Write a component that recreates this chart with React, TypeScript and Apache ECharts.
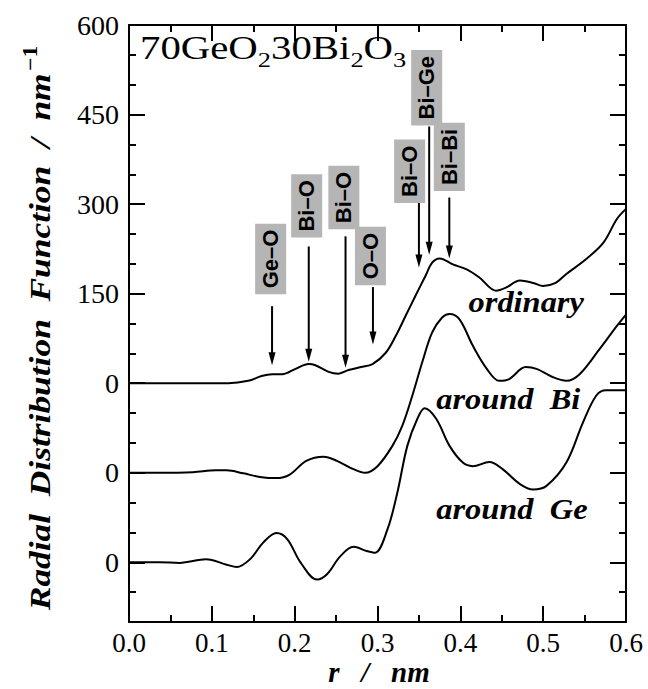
import React, { useEffect, useRef } from 'react';
import * as echarts from 'echarts';

// r / nm  vs  RDF value (nm^-1), raw values before vertical offset
const ordinary: number[][] = [
  [0, 0], [0.06, 0], [0.12, 0], [0.144, 4], [0.16, 12], [0.173, 15], [0.185, 15], [0.201, 24],
  [0.217, 32], [0.225, 30], [0.241, 19], [0.253, 16], [0.265, 22], [0.28, 27], [0.294, 32],
  [0.31, 51], [0.322, 79], [0.334, 113], [0.346, 147], [0.358, 180], [0.366, 202], [0.375, 209],
  [0.391, 199], [0.407, 191], [0.423, 177], [0.443, 155], [0.455, 160], [0.472, 172], [0.488, 168],
  [0.5, 163], [0.515, 168], [0.528, 183], [0.552, 208], [0.573, 236], [0.589, 275], [0.6, 292],
];
const aroundBi: number[][] = [
  [0, 0], [0.037, 0], [0.077, 1], [0.105, 4], [0.118, 4], [0.138, -1], [0.158, -7], [0.178, -9],
  [0.194, -3], [0.214, 20], [0.235, 27], [0.251, 20], [0.271, 6], [0.285, 0], [0.3, 11],
  [0.318, 45], [0.33, 79], [0.342, 129], [0.354, 185], [0.366, 235], [0.378, 260], [0.387, 266],
  [0.399, 257], [0.415, 213], [0.432, 174], [0.447, 154], [0.459, 157], [0.479, 177], [0.492, 174],
  [0.512, 160], [0.528, 154], [0.544, 165], [0.568, 207], [0.589, 246], [0.6, 265],
];
const aroundGe: number[][] = [
  [0, 0], [0.037, 0], [0.061, -1], [0.093, 5], [0.118, -4], [0.13, -8], [0.146, 5], [0.162, 33],
  [0.178, 49], [0.191, 39], [0.207, 0], [0.227, -29], [0.239, -20], [0.255, 10], [0.271, 26],
  [0.287, 19], [0.297, 16], [0.312, 55], [0.324, 117], [0.336, 195], [0.348, 240], [0.357, 258],
  [0.371, 240], [0.387, 195], [0.403, 167], [0.415, 161], [0.435, 168], [0.451, 156], [0.472, 131],
  [0.488, 122], [0.504, 128], [0.528, 167], [0.548, 234], [0.564, 279], [0.576, 288], [0.6, 288],
];

const seriesNames = ['ordinary', 'around  Bi', 'around  Ge'];
const seriesOffsets = [0, -150, -300];
// label anchor (left edge r, middle value) for each curve name
const seriesLabelPos: number[][] = [[0.41, 136], [0.371, -27], [0.371, -211]];

const yMajorTicks = [600, 450, 300, 150, 0, -150, -300];
const yMajorLabels = ['600', '450', '300', '150', '0', '0', '0'];

// pair annotations: label, arrow r, arrow start value, arrow tip value, box centre r, box centre value
const pairLabels = ['Ge–O', 'Bi–O', 'Bi–O', 'O–O', 'Bi–O', 'Bi–Ge', 'Bi–Bi'];
const pairArrowR = [0.1727, 0.217, 0.2614, 0.2945, 0.35, 0.3624, 0.3867];
const pairArrowFrom = [129, 229, 246, 161, 302, 430, 311];
const pairArrowTo = [30, 36, 26, 65, 194, 215, 209];
const pairBoxR = [0.171, 0.2145, 0.2594, 0.2915, 0.3388, 0.3594, 0.3867];
const pairBoxV = [208, 297, 311, 213, 355, 495, 379];

const SERIF = '"Liberation Serif", "Times New Roman", Times, serif';
const SANS = '"Liberation Sans", Arial, Helvetica, sans-serif';

export default function App() {
  const ref = useRef<HTMLDivElement>(null);

  useEffect(() => {
    document.body.style.margin = '0';
    const chart = echarts.init(ref.current!, null, { renderer: 'svg' });
    const curves = [ordinary, aroundBi, aroundGe];

    const baseY = {
      type: 'value' as const,
      min: -400,
      max: 600,
      interval: 50,
      splitLine: { show: false },
    };

    chart.setOption({
      animation: false,
      backgroundColor: '#fff',
      grid: { left: 129, right: 22, top: 25, bottom: 67 },
      xAxis: [0, 1].map((i) => ({
        type: 'value',
        position: i === 0 ? 'bottom' : 'top',
        min: 0,
        max: 0.6,
        interval: 0.1,
        splitLine: { show: false },
        axisLine: { show: true, onZero: false, lineStyle: { color: '#000', width: 2 } },
        axisTick: { show: true, inside: true, length: 16, lineStyle: { color: '#000', width: 2 } },
        minorTick: { show: true, splitNumber: 2, length: 7, lineStyle: { color: '#000', width: 2 } },
        minorSplitLine: { show: false },
        axisLabel: {
          show: i === 0,
          margin: 9,
          color: '#000',
          fontFamily: SERIF,
          fontSize: 27,
          lineHeight: 24,
          formatter: (v: number) => v.toFixed(1),
        },
      })),
      yAxis: [
        {
          ...baseY,
          position: 'left',
          axisLine: { show: true, onZero: false, lineStyle: { color: '#000', width: 2 } },
          axisTick: { show: true, inside: true, length: 7, lineStyle: { color: '#000', width: 2 } },
          axisLabel: {
            show: true,
            margin: 10,
            color: '#000',
            fontFamily: SERIF,
            fontSize: 28,
            formatter: (v: number) => {
              const k = yMajorTicks.indexOf(Math.round(v));
              return k >= 0 ? yMajorLabels[k] : '';
            },
          },
        },
        {
          ...baseY,
          position: 'left',
          axisLine: { show: false, onZero: false },
          axisTick: {
            show: true, inside: true, length: 16, customValues: yMajorTicks,
            lineStyle: { color: '#000', width: 2 },
          },
          axisLabel: { show: false },
        },
        {
          ...baseY,
          position: 'right',
          axisLine: { show: true, onZero: false, lineStyle: { color: '#000', width: 2 } },
          axisTick: { show: true, inside: true, length: 7, lineStyle: { color: '#000', width: 2 } },
          axisLabel: { show: false },
        },
        {
          ...baseY,
          position: 'right',
          axisLine: { show: false, onZero: false },
          axisTick: {
            show: true, inside: true, length: 16, customValues: yMajorTicks,
            lineStyle: { color: '#000', width: 2 },
          },
          axisLabel: { show: false },
        },
      ],
      series: curves.map((c, i) => ({
        name: seriesNames[i],
        type: 'line',
        xAxisIndex: 0,
        yAxisIndex: 0,
        data: c.map(([r, v]) => [r, v + seriesOffsets[i]]),
        showSymbol: false,
        smooth: 0.35,
        lineStyle: { color: '#000', width: 2 },
        clip: true,
      })),
    });

    const px = (r: number, v: number) =>
      chart.convertToPixel({ seriesIndex: 0 }, [r, v]) as number[];

    const graphics: any[] = [];

    // title
    graphics.push({
      type: 'text',
      x: 140,
      y: 31,
      scaleX: 1.2,
      style: {
        text: '{m|70GeO}{s|2}{m|30Bi}{s|2}{m|O}{s|3}',
        align: 'left',
        verticalAlign: 'top',
        fill: '#000',
        rich: {
          m: { fontFamily: SERIF, fontSize: 34, lineHeight: 34, fill: '#000' },
          s: { fontFamily: SERIF, fontSize: 22, lineHeight: 22, padding: [22, 0, 0, 0], fill: '#000' },
        },
      },
    });

    // y-axis title
    graphics.push({
      type: 'text',
      x: 40,
      y: 328,
      rotation: Math.PI / 2,
      scaleX: 1.18,
      style: {
        text: '{m|Radial  Distribution  Function  /  nm}{p|−1}',
        align: 'center',
        verticalAlign: 'middle',
        fill: '#000',
        rich: {
          m: { fontFamily: SERIF, fontSize: 30, fontWeight: 'bold', fontStyle: 'italic', lineHeight: 30, fill: '#000' },
          p: { fontFamily: SERIF, fontSize: 20, fontWeight: 'bold', lineHeight: 20, padding: [0, 0, 18, 2], fill: '#000' },
        },
      },
    });

    // x-axis title
    graphics.push({
      type: 'text',
      x: 379,
      y: 672,
      style: {
        text: 'r   /   nm',
        align: 'center',
        verticalAlign: 'middle',
        fill: '#000',
        font: `italic bold 29px ${SERIF}`,
      },
    });

    // curve labels
    seriesNames.forEach((name, i) => {
      const [x, y] = px(seriesLabelPos[i][0], seriesLabelPos[i][1]);
      graphics.push({
        type: 'text',
        x,
        y,
        scaleX: 1.08,
        style: {
          text: name,
          align: 'left',
          verticalAlign: 'middle',
          fill: '#000',
          font: `italic bold 30px ${SERIF}`,
        },
      });
    });

    // pair annotations
    pairLabels.forEach((lab, i) => {
      const [ax, ay0] = px(pairArrowR[i], pairArrowFrom[i]);
      const [, ay1] = px(pairArrowR[i], pairArrowTo[i]);
      graphics.push({
        type: 'line',
        shape: { x1: ax, y1: ay0, x2: ax, y2: ay1 - 8 },
        style: { stroke: '#000', lineWidth: 2 },
      });
      graphics.push({
        type: 'polygon',
        shape: { points: [[ax, ay1], [ax - 3.5, ay1 - 13], [ax + 3.5, ay1 - 13]] },
        style: { fill: '#000' },
      });
      const [bx, by] = px(pairBoxR[i], pairBoxV[i]);
      graphics.push({
        type: 'text',
        x: bx,
        y: by,
        rotation: Math.PI / 2,
        style: {
          text: lab,
          align: 'center',
          verticalAlign: 'middle',
          fill: '#000',
          font: `bold 22px ${SANS}`,
          lineHeight: 21,
          backgroundColor: '#b5b5b5',
          padding: [5, 6],
        },
      });
    });

    chart.setOption({ graphic: graphics });

    return () => chart.dispose();
  }, []);

  return <div ref={ref} style={{ width: 648, height: 689 }} />;
}
